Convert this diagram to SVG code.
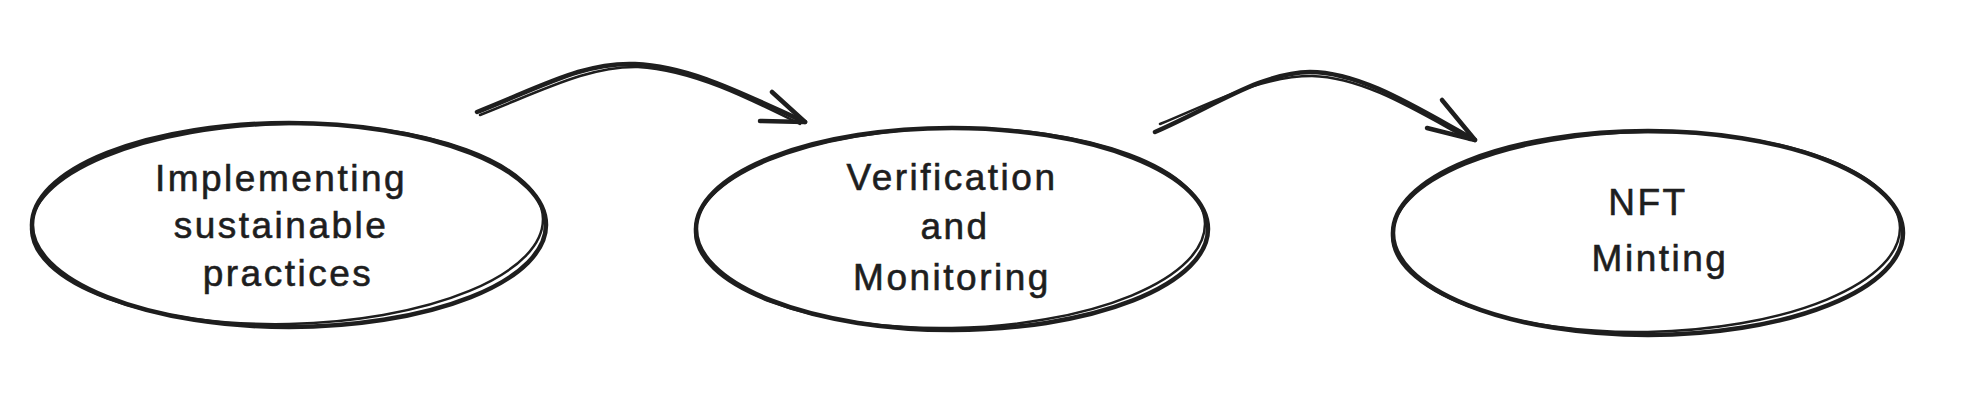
<svg xmlns="http://www.w3.org/2000/svg" width="1964" height="410" viewBox="0 0 1964 410">
<defs>
<style>
.n{fill:none;stroke:#1e1e1e;stroke-width:4.5;stroke-linecap:round;stroke-linejoin:round}
.n2{fill:none;stroke:#1e1e1e;stroke-width:2.5;stroke-linecap:round}
.c{fill:none;stroke:#1e1e1e;stroke-width:4.5;stroke-linecap:round;stroke-linejoin:round}
.t{font-family:"Liberation Sans",Arial,sans-serif;font-size:37px;fill:#1e1e1e;stroke:#1e1e1e;stroke-width:0.6;text-anchor:middle;letter-spacing:2.5px}
</style>
</defs>
<rect width="1964" height="410" fill="#ffffff"/>
<g id="node-implementing">
<ellipse class="n" cx="289" cy="225" rx="257" ry="102"/>
<ellipse class="n2" cx="287" cy="224" rx="256" ry="100" transform="rotate(-1.2 287 224)"/>
<text class="t" x="281" y="191">Implementing</text>
<text class="t" x="281" y="238">sustainable</text>
<text class="t" x="288" y="286">practices</text>
</g>
<g id="node-verification">
<ellipse class="n" cx="952" cy="229" rx="256" ry="101"/>
<ellipse class="n2" cx="950" cy="228" rx="255" ry="100" transform="rotate(-1 950 228)"/>
<text class="t" x="952" y="190">Verification</text>
<text class="t" x="955" y="239">and</text>
<text class="t" x="952" y="290">Monitoring</text>
</g>
<g id="node-nft">
<ellipse class="n" cx="1648" cy="233" rx="255" ry="102"/>
<ellipse class="n2" cx="1646" cy="232" rx="254" ry="100" transform="rotate(-1 1646 232)"/>
<text class="t" x="1648" y="215">NFT</text>
<text class="t" x="1660" y="271">Minting</text>
</g>
<g id="connectors">
<path class="c" d="M477,112 C545,85 585,62 635,64 C690,66 745,95 805,122"/>
<path class="n2" d="M480,115 C548,88 590,66 638,67 C692,70 748,98 800,124"/>
<path class="c" d="M772,92 L805,122 L760,121"/>
<path class="c" d="M1155,132 C1215,106 1260,73 1310,72 C1362,72 1420,110 1475,140"/>
<path class="n2" d="M1160,124 C1218,100 1262,76 1312,76 C1364,77 1420,113 1470,140"/>
<path class="c" d="M1442,100 L1475,140 L1427,128"/>
</g>
</svg>
